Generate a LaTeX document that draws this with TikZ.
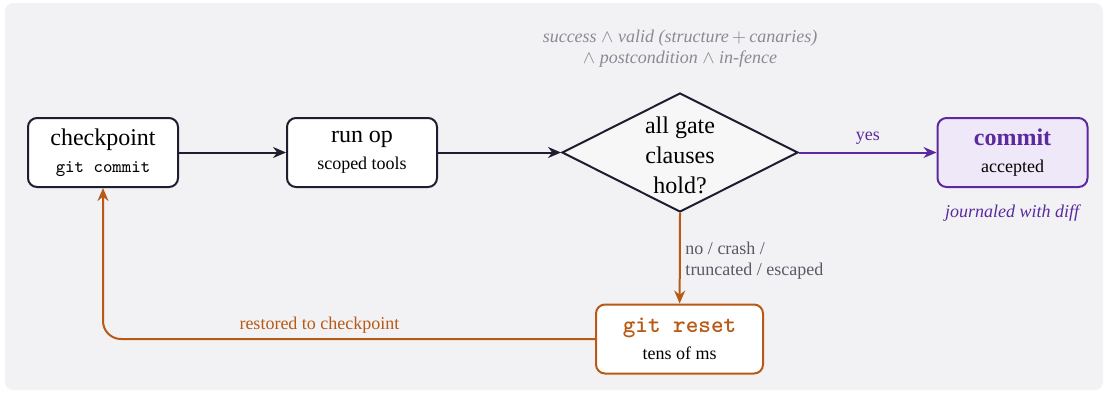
\documentclass[tikz,border=0pt]{standalone}
\usepackage{fontspec}
\setmainfont{Liberation Serif}
\usetikzlibrary{arrows.meta,shapes.geometric}

\definecolor{canvas}{HTML}{F2F2F4}
\definecolor{ink}{HTML}{1E1E30}
\definecolor{rust}{HTML}{B85A16}
\definecolor{violet}{HTML}{5B2A9F}
\definecolor{violetfill}{HTML}{EFE8F9}
\definecolor{muted}{HTML}{8A8A95}
\definecolor{note}{HTML}{5A5A66}
\definecolor{gatefill}{HTML}{F7F7F8}

\tikzset{
  box/.style={draw=ink, line width=1pt, fill=white, rounded corners=4.5pt,
    minimum width=75pt, minimum height=34.5pt, align=center, inner sep=0pt,
    font=\fontsize{12}{14.5}\selectfont},
  gatebox/.style={draw=ink, line width=1pt, fill=gatefill, shape=diamond,
    minimum width=118pt, minimum height=59.5pt, inner sep=0pt},
  flow/.style={draw=ink, line width=1pt, -{Stealth[length=6.5pt,width=5.5pt]}},
  lbl/.style={font=\fontsize{9}{10.5}\selectfont},
}

\begin{document}
\begin{tikzpicture}[x=0.5pt, y=-0.5pt]
  % canvas
  \path[use as bounding box] (0,0) rectangle (1107,393);
  \fill[canvas, rounded corners=4pt] (5,3) rectangle (1103,390);

  % condition text above the gate
  \node[text=muted, align=center, font=\fontsize{9}{10.5}\selectfont\itshape] (conds) at (680,49)
    {success $\wedge$ valid (structure\,$+$\,canaries)\\ $\wedge$ postcondition $\wedge$ in-fence};

  % nodes
  \node[box] (ckpt) at (103,152.5) {checkpoint\\[-1pt]{\fontsize{9}{11}\selectfont\ttfamily git commit}};
  \node[box] (run) at (362,152.5) {run op\\[-1pt]{\fontsize{9}{11}\selectfont scoped tools}};
  \node[gatebox] (gate) at (680,152.5) {};
  \node[align=center, font=\fontsize{12}{15}\selectfont, inner sep=0pt] (gatetext) at (680,155) {all gate\\clauses\\hold?};
  \node[box, draw=violet, fill=violetfill] (commit) at (1012.5,152.5)
    {\textcolor{violet}{\bfseries commit}\\[-1pt]{\fontsize{9}{11}\selectfont accepted}};
  \node[box, draw=rust, minimum width=83.5pt] (reset) at (679.5,339)
    {\textcolor{rust}{\bfseries\ttfamily git reset}\\[-1pt]{\fontsize{9}{11}\selectfont tens of ms}};

  \node[text=violet, font=\fontsize{9}{11}\selectfont\itshape] (journal) at (1012,213) {journaled with diff};

  % connectors
  \draw[flow] (ckpt) -- (run);
  \draw[flow] (run) -- (gate.west);
  \draw[flow, draw=violet] (gate.east) -- node[lbl, text=violet, above] (yes) {yes} (commit);
  \draw[flow, draw=rust] (gate.south) -- node[lbl, text=note, right, align=left, xshift=-1pt, yshift=-1pt] (fail) {no / crash /\\truncated / escaped} (reset);
  \draw[flow, draw=rust, rounded corners=9pt] (reset.west) -| node[pos=0.28, lbl, text=rust, above, yshift=-1pt] (restore) {restored to checkpoint} (ckpt.south);
\end{tikzpicture}
\end{document}
